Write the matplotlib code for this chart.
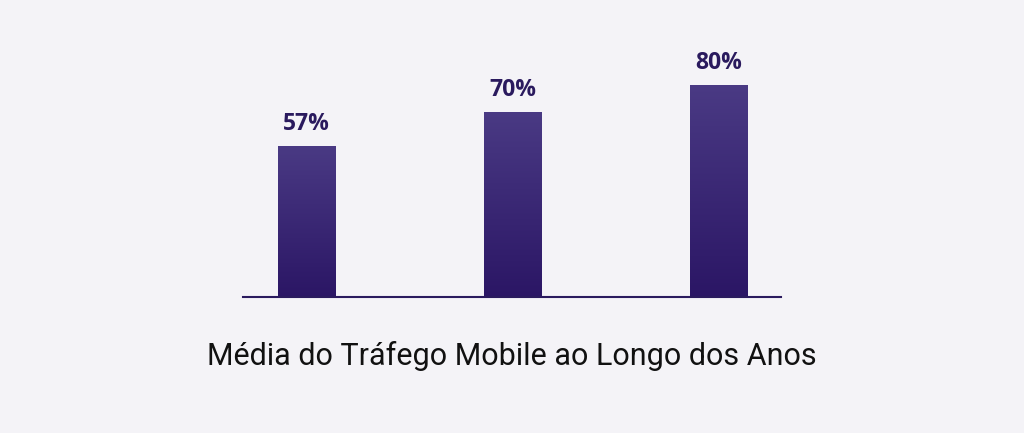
import matplotlib
matplotlib.use("Agg")
import matplotlib.pyplot as plt
import numpy as np
from matplotlib.colors import LinearSegmentedColormap

categories = ["Ano 1", "Ano 2", "Ano 3"]
values = [57, 70, 80]
labels = ["57%", "70%", "80%"]
title = "Média do Tráfego Mobile ao Longo dos Anos"

bg = "#f4f3f7"
dark = "#2a1a5e"
grad = LinearSegmentedColormap.from_list("g", ["#2b1665", "#4a3a84"])

fig = plt.figure(figsize=(10.24, 4.33), dpi=100, facecolor=bg)
ax = fig.add_axes([243 / 1024, 136 / 433, 538 / 1024, 265 / 433])
ax.set_facecolor(bg)

x = np.arange(len(values))
bars = ax.bar(x, values, width=0.277, color="none", edgecolor="none")
g = np.linspace(0, 1, 256).reshape(-1, 1)
for b in bars:
    im = ax.imshow(g, cmap=grad, aspect="auto", origin="lower",
                   extent=[b.get_x(), b.get_x() + b.get_width(), 0, b.get_height()])
    im.set_clip_path(b)

for xi, v, lab in zip(x, values, labels):
    ax.text(xi, v + 8.3, lab, ha="center", va="center", fontsize=16.5,
            fontweight="bold", color=dark, family=["Open Sans", "DejaVu Sans"])

ax.set_xlim(-0.308, 2.303)
ax.set_ylim(0, 100)
for s in ["top", "right", "left"]:
    ax.spines[s].set_visible(False)
ax.spines["bottom"].set_color(dark)
ax.spines["bottom"].set_linewidth(1.5)
ax.set_xticks([])
ax.set_yticks([])

fig.text(0.5, 1 - 356 / 433, title, ha="center", va="center", fontsize=22,
         color="#111111", family="Roboto")

fig.savefig("out.png", dpi=100, facecolor=bg)
